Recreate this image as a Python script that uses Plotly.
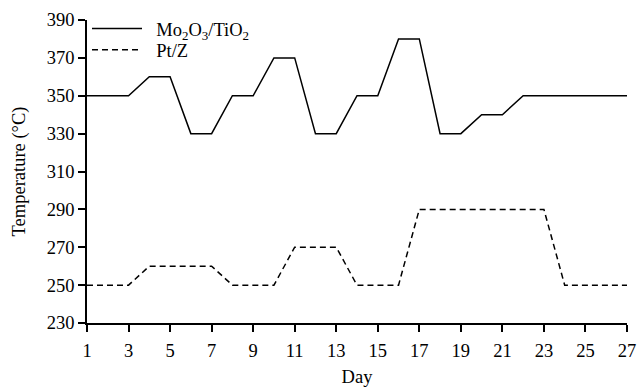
import plotly.graph_objects as go

days = list(range(1, 28))
mo_tio2 = [350, 350, 350, 360, 360, 330, 330, 350, 350, 370, 370, 330, 330, 350, 350,
           380, 380, 330, 330, 340, 340, 350, 350, 350, 350, 350, 350]
pt_z = [250, 250, 250, 260, 260, 260, 260, 250, 250, 250, 270, 270, 270, 250, 250, 250,
        290, 290, 290, 290, 290, 290, 290, 250, 250, 250, 250]
x_ticks = list(range(1, 28, 2))
y_ticks = list(range(230, 391, 20))

font = "Liberation Serif, Times New Roman, serif"

fig = go.Figure()
fig.add_trace(go.Scatter(x=days, y=mo_tio2, mode="lines",
                         name="\u00a0\u00a0Mo<sub>2</sub>O<sub>3</sub>/TiO<sub>2</sub>",
                         line=dict(color="black", width=1.5), legend="legend"))
fig.add_trace(go.Scatter(x=days, y=pt_z, mode="lines", name="\u00a0\u00a0Pt/Z",
                         line=dict(color="black", width=1.5, dash="6px,4px"),
                         legend="legend2"))

leg_common = dict(xanchor="left", yanchor="middle", bgcolor="rgba(0,0,0,0)",
                  font=dict(size=18.5), itemwidth=50)

fig.update_layout(
    width=637, height=387,
    margin=dict(l=87, r=10, t=20, b=64),
    paper_bgcolor="white", plot_bgcolor="white",
    font=dict(family=font, size=18.5, color="black"),
    showlegend=True,
    legend=dict(x=0.0, y=0.97, **leg_common),
    legend2=dict(x=0.0, y=0.90, **leg_common),
    xaxis=dict(range=[1, 27], tickvals=x_ticks, showgrid=False, zeroline=False,
               showline=True, linecolor="black", linewidth=1.5,
               ticks="outside", ticklen=7, tickwidth=1.5, tickcolor="black",
               ticklabelstandoff=3, automargin=False,
               title=dict(text="Day", standoff=13, font=dict(size=18.5))),
    yaxis=dict(range=[230, 390], tickvals=y_ticks, showgrid=False, zeroline=False,
               showline=True, linecolor="black", linewidth=1.5,
               ticks="outside", ticklen=7, tickwidth=1.5, tickcolor="black",
               automargin=False,
               title=dict(text="Temperature (°C)", standoff=16, font=dict(size=18.5))),
)

fig.write_html("out.html")
